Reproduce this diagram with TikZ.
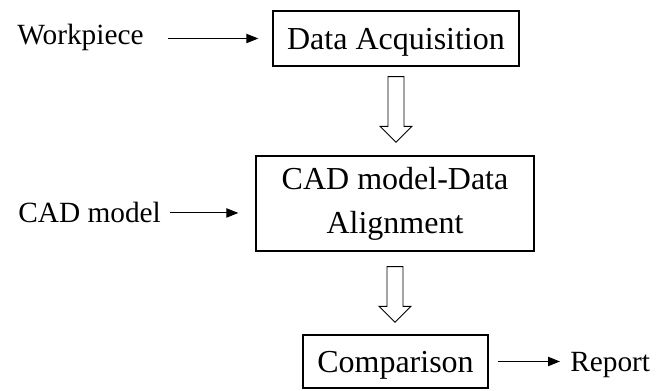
\documentclass[tikz,border=0pt]{standalone}
\usepackage{fontspec}
\setmainfont{Liberation Serif}
\usetikzlibrary{arrows.meta,calc}
\begin{document}
\begin{tikzpicture}[x=0.75pt,y=-0.75pt,
  box/.style={draw,line width=1pt,inner sep=0pt,font=\fontsize{24}{33}\selectfont,align=center},
  lbl/.style={inner sep=0pt,font=\fontsize{22}{26}\selectfont},
  arr/.style={line width=0.8pt,-{Triangle[length=9pt,width=7pt]}},
  blockarrow/.style={draw,line width=0.7pt,
    to path={let \p1=(\tikztostart), \p2=(\tikztotarget) in
      (\x1-6pt,\y1) -- (\x1+6pt,\y1) -- (\x1+6pt,\y2+12pt) -- (\x1+12pt,\y2+12pt)
      -- (\x1,\y2) -- (\x1-12pt,\y2+12pt) -- (\x1-6pt,\y2+12pt) -- cycle}}]
\useasboundingbox (0,0) rectangle (664,391);
\node[box,minimum width=184.5pt,minimum height=41.25pt,text height=17.25pt,text depth=0pt] (da) at (396,38.5) {Data Acquisition};
\node[box,minimum width=208.5pt,minimum height=71.25pt] (cad) at (395,203.5) {CAD model-Data\\Alignment};
\node[box,minimum width=138.75pt,minimum height=39.75pt,text height=17.25pt,text depth=0pt] (cmp) at (395.5,361.5) {Comparison};
\node[lbl,anchor=base west] (wp) at (17,45) {Workpiece};
\node[lbl,anchor=base west] (cm) at (18,223) {CAD model};
\node[lbl,anchor=base west] (rep) at (570,372) {Report};
\draw[arr] ([xshift=18pt]wp.east |- da.west) -- ([xshift=-10.5pt]da.west);
\draw[arr] ([xshift=6.75pt]cm.east) -- ([xshift=-12.75pt]cm.east -| cad.west);
\draw[arr] ([xshift=6.75pt]cmp.east) -- ([xshift=-7.5pt]rep.west |- cmp.east);
\draw[blockarrow] ([yshift=-7.5pt]da.south) to ([yshift=9.75pt]cad.north);
\draw[blockarrow] ([yshift=-11.25pt]cad.south) to ([yshift=9pt]cmp.north);
\end{tikzpicture}
\end{document}
